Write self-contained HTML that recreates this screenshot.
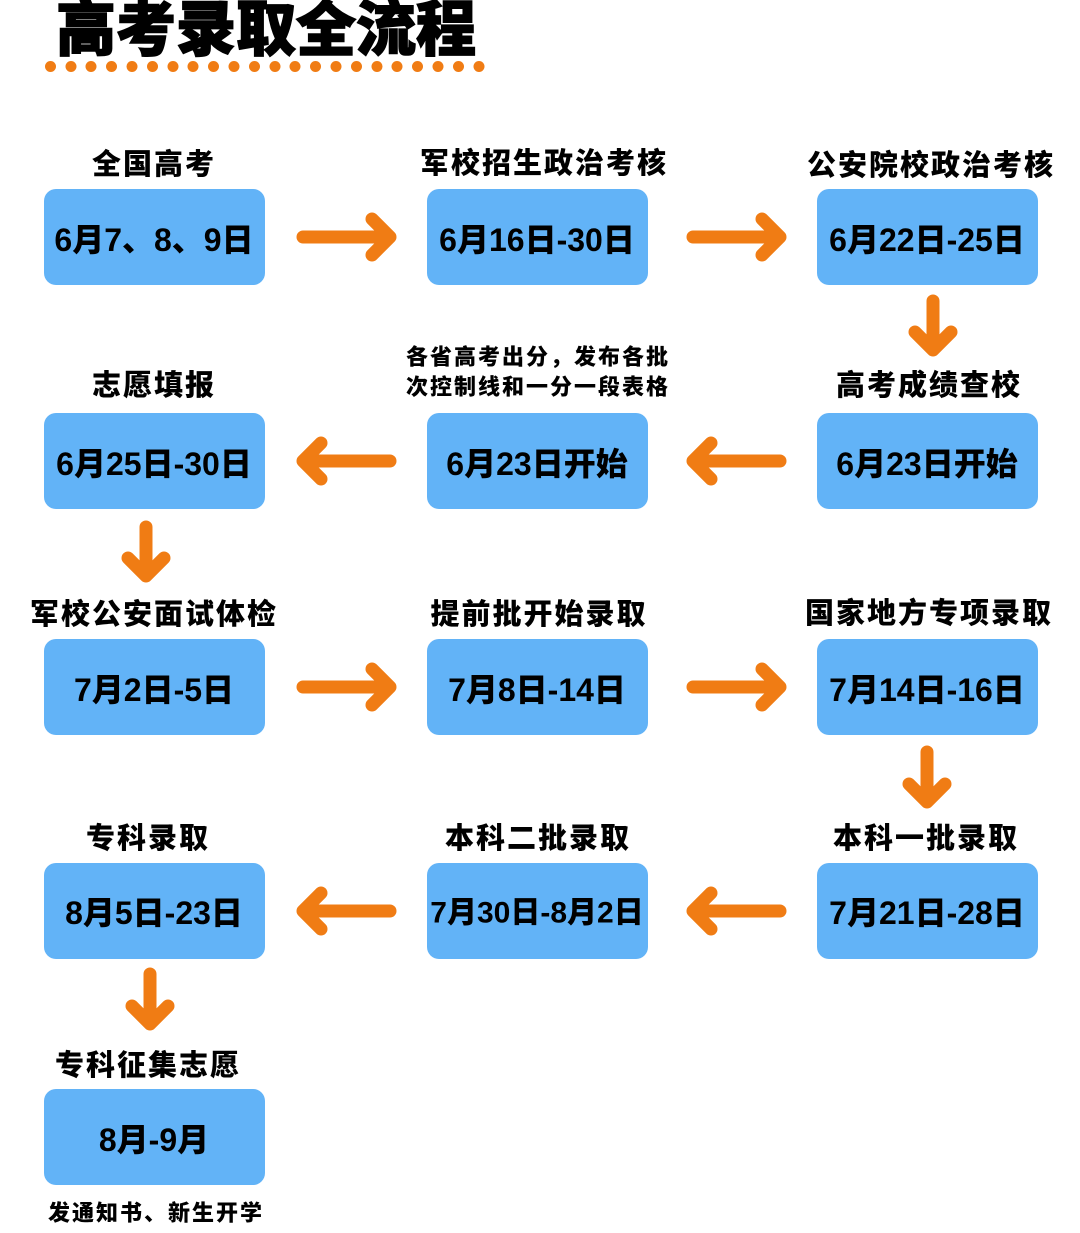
<!DOCTYPE html>
<html><head><meta charset="utf-8"><style>
html,body{margin:0;padding:0;background:#fff}
svg{display:block}
text{font-family:"Liberation Sans","Noto Sans CJK SC",sans-serif;font-weight:900;fill:#000;text-anchor:middle;dominant-baseline:central}
</style></head><body>
<svg width="1080" height="1233" viewBox="0 0 1080 1233" xmlns="http://www.w3.org/2000/svg">
<text x="266" y="30" font-size="60" stroke="#000" stroke-width="1.5">高考录取全流程</text>
<g fill="#f07c14">
<circle cx="50.5" cy="66.5" r="5.5"/><circle cx="71" cy="66.5" r="5.5"/><circle cx="91" cy="66.5" r="5.5"/><circle cx="111.5" cy="66.5" r="5.5"/><circle cx="132" cy="66.5" r="5.5"/><circle cx="152.5" cy="66.5" r="5.5"/><circle cx="173" cy="66.5" r="5.5"/><circle cx="193" cy="66.5" r="5.5"/><circle cx="213.5" cy="66.5" r="5.5"/><circle cx="234" cy="66.5" r="5.5"/><circle cx="254.5" cy="66.5" r="5.5"/><circle cx="275" cy="66.5" r="5.5"/><circle cx="295" cy="66.5" r="5.5"/><circle cx="315.5" cy="66.5" r="5.5"/><circle cx="336" cy="66.5" r="5.5"/><circle cx="356.5" cy="66.5" r="5.5"/><circle cx="377" cy="66.5" r="5.5"/><circle cx="397" cy="66.5" r="5.5"/><circle cx="417.5" cy="66.5" r="5.5"/><circle cx="438" cy="66.5" r="5.5"/><circle cx="458.5" cy="66.5" r="5.5"/><circle cx="479" cy="66.5" r="5.5"/>
</g>
<g fill="#62b3f7">
<rect x="44" y="189" width="221" height="96" rx="12"/><rect x="427" y="189" width="221" height="96" rx="12"/><rect x="817" y="189" width="221" height="96" rx="12"/>
<rect x="44" y="413" width="221" height="96" rx="12"/><rect x="427" y="413" width="221" height="96" rx="12"/><rect x="817" y="413" width="221" height="96" rx="12"/>
<rect x="44" y="639" width="221" height="96" rx="12"/><rect x="427" y="639" width="221" height="96" rx="12"/><rect x="817" y="639" width="221" height="96" rx="12"/>
<rect x="44" y="863" width="221" height="96" rx="12"/><rect x="427" y="863" width="221" height="96" rx="12"/><rect x="817" y="863" width="221" height="96" rx="12"/>
<rect x="44" y="1089" width="221" height="96" rx="12"/>
</g>
<g font-size="29" letter-spacing="2">
<text x="154" y="165">全国高考</text><text x="544" y="164">军校招生政治考核</text><text x="931" y="166">公安院校政治考核</text>
<text x="154" y="386">志愿填报</text><text x="929" y="386">高考成绩查校</text>
<text x="154" y="615">军校公安面试体检</text><text x="539" y="615">提前批开始录取</text><text x="929" y="614">国家地方专项录取</text>
<text x="148" y="839">专科录取</text><text x="538" y="839">本科二批录取</text><text x="926" y="839">本科一批录取</text>
<text x="148" y="1066">专科征集志愿</text>
</g>
<g font-size="22" letter-spacing="2"><text x="538" y="357">各省高考出分，发布各批</text><text x="538" y="387">次控制线和一分一段表格</text>
<text x="156" y="1213">发通知书、新生开学</text></g>
<g font-size="32">
<text x="154" y="240">6月7、8、9日</text><text x="537" y="240">6月16日-30日</text><text x="927" y="240">6月22日-25日</text>
<text x="154" y="464">6月25日-30日</text><text x="537" y="464">6月23日开始</text><text x="927" y="464">6月23日开始</text>
<text x="154" y="690">7月2日-5日</text><text x="537" y="690">7月8日-14日</text><text x="927" y="690">7月14日-16日</text>
<text x="154" y="913">8月5日-23日</text><text x="537" y="913" font-size="30">7月30日-8月2日</text><text x="927" y="913">7月21日-28日</text>
<text x="154" y="1140">8月-9月</text>
</g>
<g stroke="#f07c14" stroke-width="13" stroke-linecap="round" stroke-linejoin="round" fill="none">
<path d="M303 237H390M372 219L390 237L372 255"/>
<path d="M693 237H780M762 219L780 237L762 255"/>
<path d="M933 301V350M915 332L933 350L951 332"/>
<path d="M780 461H693M711 443L693 461L711 479"/>
<path d="M390 461H303M321 443L303 461L321 479"/>
<path d="M146 527V576M128 558L146 576L164 558"/>
<path d="M303 687H390M372 669L390 687L372 705"/>
<path d="M693 687H780M762 669L780 687L762 705"/>
<path d="M927 752V802M909 784L927 802L945 784"/>
<path d="M780 911H693M711 893L693 911L711 929"/>
<path d="M390 911H303M321 893L303 911L321 929"/>
<path d="M150 974V1024M132 1006L150 1024L168 1006"/>
</g>
</svg>
</body></html>
